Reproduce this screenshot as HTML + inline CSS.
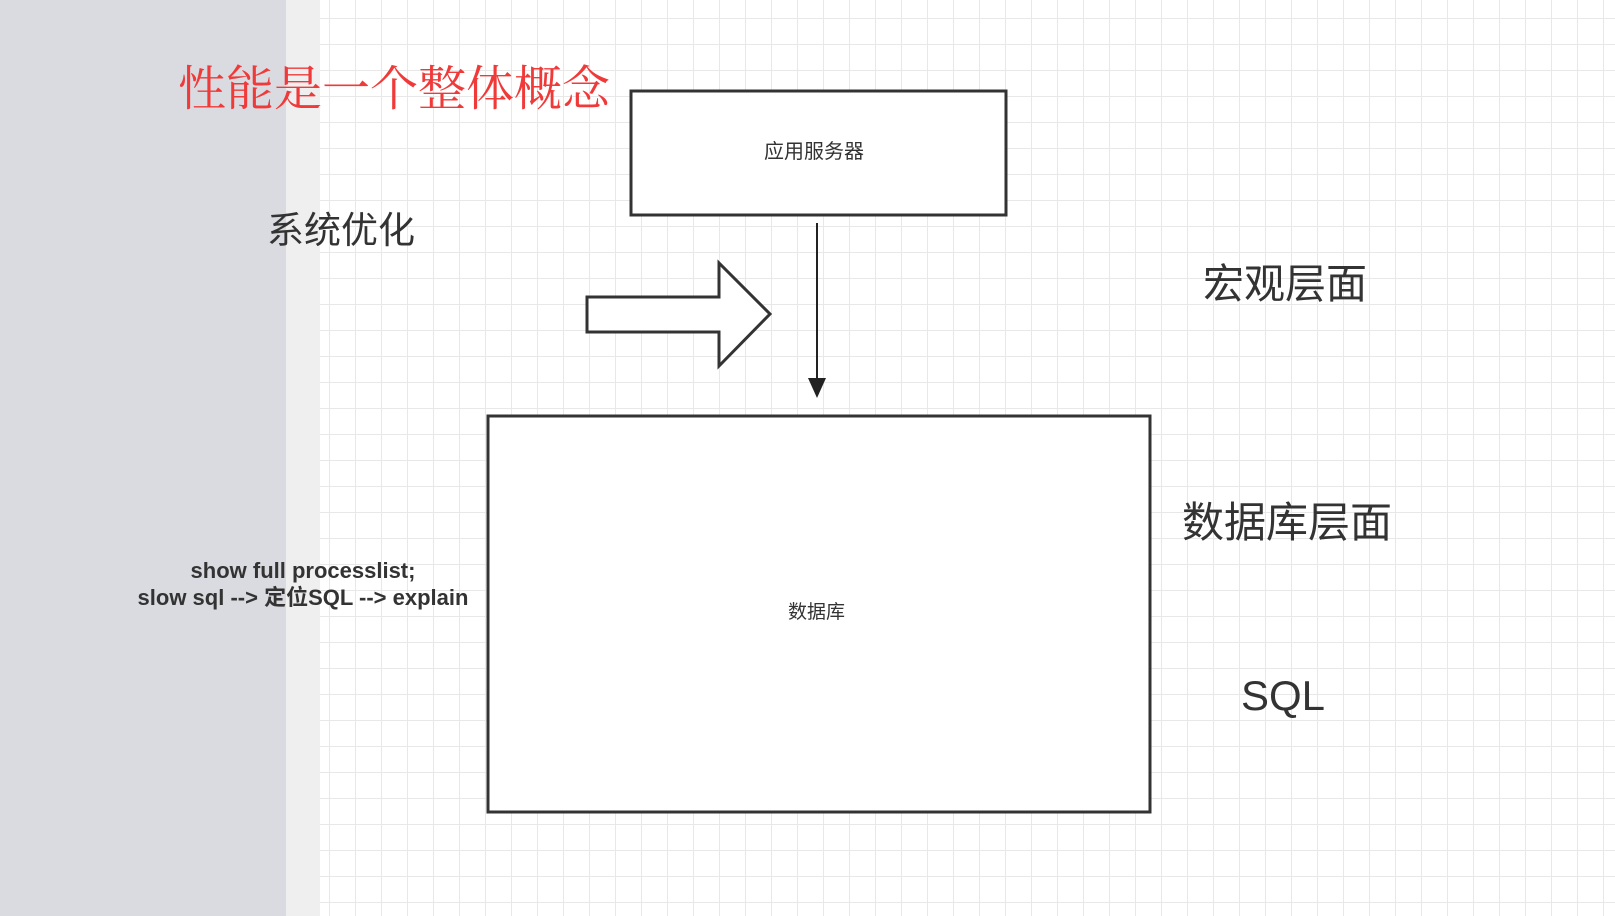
<!DOCTYPE html>
<html><head><meta charset="utf-8"><style>
html,body{margin:0;padding:0}
body{width:1615px;height:916px;position:relative;overflow:hidden;background:#fff;
font-family:"Liberation Sans","Noto Sans CJK SC",sans-serif;}
#grid{position:absolute;left:320px;top:0;width:1295px;height:916px;
background-image:linear-gradient(to right,#e8e8e8 1px,transparent 1px),linear-gradient(to bottom,#e8e8e8 1px,transparent 1px);
background-size:26px 26px;background-position:9px 18px;}
#gray{position:absolute;left:0;top:0;width:286px;height:916px;background:#d9dbe0}
#strip{position:absolute;left:286px;top:0;width:34px;height:916px;background:#efeff0}
.t{position:absolute;white-space:nowrap;line-height:1}
</style></head><body>
<div id="grid"></div><div id="gray"></div><div id="strip"></div>
<svg width="1615" height="916" style="position:absolute;left:0;top:0">
<rect x="631" y="91" width="375" height="124" fill="#fff" stroke="#333" stroke-width="3"/>
<rect x="488" y="416" width="662" height="396" fill="#fff" stroke="#333" stroke-width="3"/>
<line x1="817" y1="223" x2="817" y2="380" stroke="#222" stroke-width="2"/>
<polygon points="808,378 826,378 817,398" fill="#222"/>
<polygon points="587,297 719,297 719,263 770,314 719,366 719,332 587,332" fill="#fff" stroke="#333" stroke-width="3"/>
</svg>
<div class="t" style="left:178px;top:61px;font-size:48px;color:#f03a3a;font-family:'Noto Serif CJK SC','Noto Sans CJK SC',serif">性能是一个整体概念</div>
<div class="t" style="left:267px;top:212px;font-size:37px;color:#333">系统优化</div>
<div class="t" style="left:1203px;top:264px;font-size:41px;color:#333">宏观层面</div>
<div class="t" style="left:1182px;top:502px;font-size:42px;color:#333">数据库层面</div>
<div class="t" style="left:1241px;top:675px;font-size:42px;color:#333">SQL</div>
<div class="t" style="left:764px;top:142px;font-size:20px;color:#333">应用服务器</div>
<div class="t" style="left:788px;top:603px;font-size:19px;color:#333">数据库</div>
<div class="t" style="left:100px;top:557px;width:406px;text-align:center;font-size:22px;font-weight:bold;color:#333;line-height:27px">show full processlist;<br>slow sql --&gt; 定位SQL --&gt; explain</div>
</body></html>
